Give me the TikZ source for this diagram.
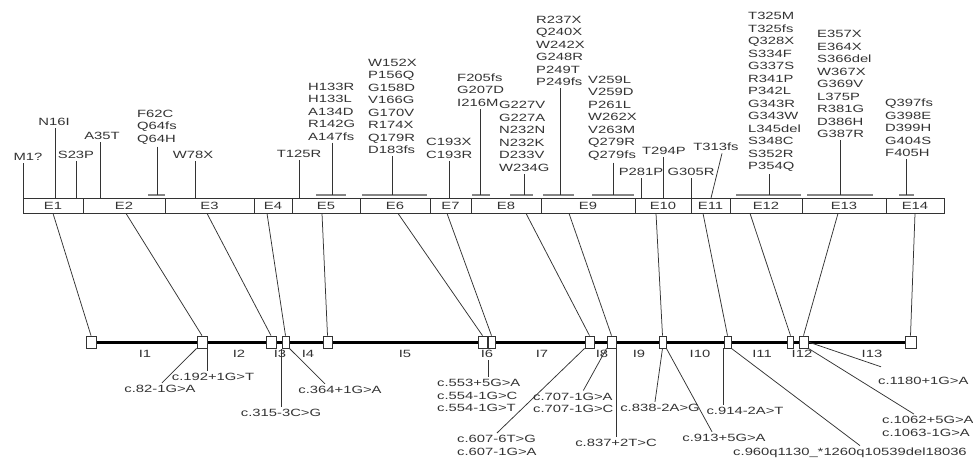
\documentclass[tikz,border=0pt]{standalone}
\usepackage{fontspec}
\setmainfont{Liberation Sans}[FakeStretch=1.41]
\usetikzlibrary{backgrounds}
\definecolor{ink}{HTML}{333333}
\definecolor{barc}{HTML}{858585}
\begin{document}
\begin{tikzpicture}[x=1pt,y=-1pt,
  every node/.style={font=\fontsize{10.5}{12.5}\selectfont, text=ink, inner sep=0pt},
  mut/.style={align=left, outer ysep=2.5pt},
  exon/.style={draw=ink, line width=0.8pt, minimum height=15pt, inner sep=0pt},
  ibox/.style={draw=ink, fill=white, line width=0.8pt, minimum height=12pt, inner sep=0pt},
  link/.style={draw=ink, line width=0.75pt},
  rng/.style={draw=barc, line width=1.2pt}]
\useasboundingbox (0,0) rectangle (973,461);

% ---------- exon bar ----------
\node[exon, minimum width=60pt] (E1) at (53,205.5) {E1};
\node[exon, minimum width=82pt] (E2) at (124,205.5) {E2};
\node[exon, minimum width=89pt] (E3) at (209.5,205.5) {E3};
\node[exon, minimum width=38pt] (E4) at (273,205.5) {E4};
\node[exon, minimum width=68pt] (E5) at (326,205.5) {E5};
\node[exon, minimum width=70pt] (E6) at (395,205.5) {E6};
\node[exon, minimum width=41pt] (E7) at (450.5,205.5) {E7};
\node[exon, minimum width=70pt] (E8) at (506,205.5) {E8};
\node[exon, minimum width=94pt] (E9) at (588,205.5) {E9};
\node[exon, minimum width=56pt] (E10) at (663,205.5) {E10};
\node[exon, minimum width=39pt] (E11) at (710.5,205.5) {E11};
\node[exon, minimum width=72pt] (E12) at (766,205.5) {E12};
\node[exon, minimum width=84pt] (E13) at (844,205.5) {E13};
\node[exon, minimum width=58pt] (E14) at (915,205.5) {E14};

% ---------- intron line boxes ----------
\node[ibox, minimum width=10pt] (B1) at (91,342) {};
\node[ibox, minimum width=10pt] (B2) at (202,342) {};
\node[ibox, minimum width=10pt] (B3) at (271,342) {};
\node[ibox, minimum width=7pt] (B4) at (285.5,342) {};
\node[ibox, minimum width=9pt] (B5) at (327.5,342) {};
\node[ibox, minimum width=9pt] (B6) at (482.5,342) {};
\node[ibox, minimum width=7pt] (B7) at (491.5,342) {};
\node[ibox, minimum width=9pt] (B8) at (589.5,342) {};
\node[ibox, minimum width=9pt] (B9) at (611.5,342) {};
\node[ibox, minimum width=7pt] (B10) at (662.5,342) {};
\node[ibox, minimum width=7pt] (B11) at (727.5,342) {};
\node[ibox, minimum width=6pt] (B12) at (790.5,342) {};
\node[ibox, minimum width=9pt] (B13) at (803.5,342) {};
\node[ibox, minimum width=11pt] (B14) at (910.5,342) {};
\begin{scope}[on background layer]
  \draw[line width=3pt, black] (B1.center) -- (B14.center);
\end{scope}

% intron labels
\node (I1) at (145,354) {I1};
\node (I2) at (239,354) {I2};
\node (I3) at (280,354) {I3};
\node (I4) at (308,354) {I4};
\node (I5) at (405,354) {I5};
\node (I6) at (487,354) {I6};
\node (I7) at (542,354) {I7};
\node (I8) at (602,354) {I8};
\node (I9) at (639,354) {I9};
\node (I10) at (700,354) {I10};
\node (I11) at (762,354) {I11};
\node (I12) at (802,354) {I12};
\node (I13) at (872,354) {I13};

% exon -> intron-line connectors
\draw[link] (E1.south) -- (B1.north);
\draw[link] ([xshift=2pt]E2.south) -- (B2.north);
\draw[link] ([xshift=-2.5pt]E3.south) -- (B3.north);
\draw[link] ([xshift=-6pt]E4.south) -- (B4.north);
\draw[link] ([xshift=-4pt]E5.south) -- (B5.north);
\draw[link] ([xshift=3pt]E6.south) -- (B6.north);
\draw[link] ([xshift=-3.5pt]E7.south) -- (B7.north);
\draw[link] ([xshift=20pt]E8.south) -- (B8.north);
\draw[link] ([xshift=-19pt]E9.south) -- (B9.north);
\draw[link] ([xshift=-7pt]E10.south) -- (B10.north);
\draw[link] ([xshift=-7.5pt]E11.south) -- (B11.north);
\draw[link] ([xshift=-16pt]E12.south) -- (B12.north);
\draw[link] ([xshift=-6pt]E13.south) -- (B13.north);
\draw[link] (E14.south) -- (B14.north);

% ---------- protein-level mutations (above) ----------
\node[mut] (ma) at (28,157) {M1?};
\node[mut] (mb) at (54,122) {N16I};
\node[mut] (mc) at (76,155) {S23P};
\node[mut] (md) at (102,136) {A35T};
\node[mut, anchor=west] (me) at (137,127) {F62C\\Q64fs\\Q64H};
\node[mut] (mf) at (193,155) {W78X};
\node[mut] (mg) at (299,154) {T125R};
\node[mut, anchor=west] (mh) at (308,111.5) {H133R\\H133L\\A134D\\R142G\\A147fs};
\node[mut, anchor=west] (mi) at (368,106.5) {W152X\\P156Q\\G158D\\V166G\\G170V\\R174X\\Q179R\\D183fs};
\node[mut, anchor=west] (mj) at (426,148.5) {C193X\\C193R};
\node[mut, anchor=west] (mk) at (457,90) {F205fs\\G207D\\I216M};
\node[mut, anchor=west] (ml) at (499,136.5) {G227V\\G227A\\N232N\\N232K\\D233V\\W234G};
\node[mut, anchor=west] (mm) at (536,51) {R237X\\Q240X\\W242X\\G248R\\P249T\\P249fs};
\node[mut, anchor=west] (mn) at (588,118) {V259L\\V259D\\P261L\\W262X\\V263M\\Q279R\\Q279fs};
\node[mut] (mo) at (664,151) {T294P};
\node[mut] (mp) at (641,172) {P281P};
\node[mut] (mq) at (691,172) {G305R};
\node[mut] (mr) at (716,147) {T313fs};
\node[mut, anchor=west] (ms) at (748,92) {T325M\\T325fs\\Q328X\\S334F\\G337S\\R341P\\P342L\\G343R\\G343W\\L345del\\S348C\\S352R\\P354Q};
\node[mut, anchor=west] (mt) at (817,84) {E357X\\E364X\\S366del\\W367X\\G369V\\L375P\\R381G\\D386H\\G387R};
\node[mut, anchor=west] (mu) at (885,128) {Q397fs\\G398E\\D399H\\G404S\\F405H};

% end points on the exon bar
\coordinate (pa) at (23,198);
\coordinate (pb) at (55,198);
\coordinate (pc) at (76,198);
\coordinate (pd) at (100,198);
\coordinate (pe) at (157,195);
\coordinate (pf) at (195,198);
\coordinate (pg) at (299,198);
\coordinate (ph) at (332,195);
\coordinate (pi) at (392,195);
\coordinate (pj) at (449,198);
\coordinate (pk) at (480,195);
\coordinate (pl) at (524,195);
\coordinate (pm) at (560,195);
\coordinate (pn) at (613,195);
\coordinate (po) at (663,198);
\coordinate (pp) at (641,198);
\coordinate (pq) at (691,198);
\coordinate (pr) at (711,198);
\coordinate (ps) at (769,195);
\coordinate (pt) at (840,195);
\coordinate (pu) at (906,195);

% range bars
\draw[rng] (148,195) -- (165,195);
\draw[rng] (316,195) -- (346,195);
\draw[rng] (362,195) -- (427,195);
\draw[rng] (472,195) -- (490,195);
\draw[rng] (510,195) -- (533,195);
\draw[rng] (543,195) -- (574,195);
\draw[rng] (592,195) -- (634,195);
\draw[rng] (736,195) -- (801,195);
\draw[rng] (807,195) -- (873,195);
\draw[rng] (899,195) -- (914,195);

% mutation leader lines
\foreach \m in {a,b,c,d,e,f,g,h,i,j,k,l,m,n,o,p,q,s,t,u}
  \draw[link] (m\m.south -| p\m) -- (p\m);
\draw[link] ([xshift=6pt]mr.south) -- (pr);

% ---------- splice / intronic mutations (below) ----------
\node[mut] (l82) at (160,389) {c.82-1G>A};
\node[mut] (l192) at (213,377) {c.192+1G>T};
\node[mut] (l315) at (281,413) {c.315-3C>G};
\node[mut] (l364) at (340,390) {c.364+1G>A};
\node[mut, anchor=west] (l553) at (437,395.5) {c.553+5G>A\\c.554-1G>C\\c.554-1G>T};
\node[mut, anchor=west] (l607) at (457,445.5) {c.607-6T>G\\c.607-1G>A};
\node[mut, anchor=west] (l707) at (533,403) {c.707-1G>A\\c.707-1G>C};
\node[mut] (l837) at (616,443) {c.837+2T>C};
\node[mut] (l838) at (660,408) {c.838-2A>G};
\node[mut] (l913) at (724,438) {c.913+5G>A};
\node[mut] (l914) at (745,411) {c.914-2A>T};
\node[mut] (l960) at (850,453) {c.960q1130\_*1260q10539del18036};
\node[mut, anchor=west] (l1062) at (882,426.5) {c.1062+5G>A\\c.1063-1G>A};
\node[mut, anchor=west] (l1180) at (878,381) {c.1180+1G>A};

\coordinate (q315) at (281,349);
\coordinate (q553) at (488,360);

\draw[link] (B2.south west) -- ([xshift=2pt]l82.north);
\draw[link] (B2.south east) -- (B2.south east |- l192.north);
\draw[link] (q315) -- (q315 |- l315.north);
\draw[link] (B4.south east) -- ([xshift=-15pt]l364.north);
\draw[link] (q553) -- (q553 |- l553.north);
\draw[link] (B8.south west) -- (l607.north);
\draw[link] (B9.south west) -- ([xshift=10pt]l707.north);
\draw[link] (B9.south east) -- (B9.south east |- l837.north);
\draw[link] (B10.south) -- ([xshift=-5pt]l838.north);
\draw[link] (B10.south east) -- ([xshift=-12pt]l913.north);
\draw[link] (B11.south west) -- (B11.south west |- l914.north);
\draw[link] (B11.south east) -- ([xshift=10pt]l960.north);
\draw[link] (B13.south east) -- ([xshift=-14pt]l1062.north);
\draw[link] (B13.east) -- ([xshift=3pt,yshift=8pt]l1180.north west);
\end{tikzpicture}
\end{document}
